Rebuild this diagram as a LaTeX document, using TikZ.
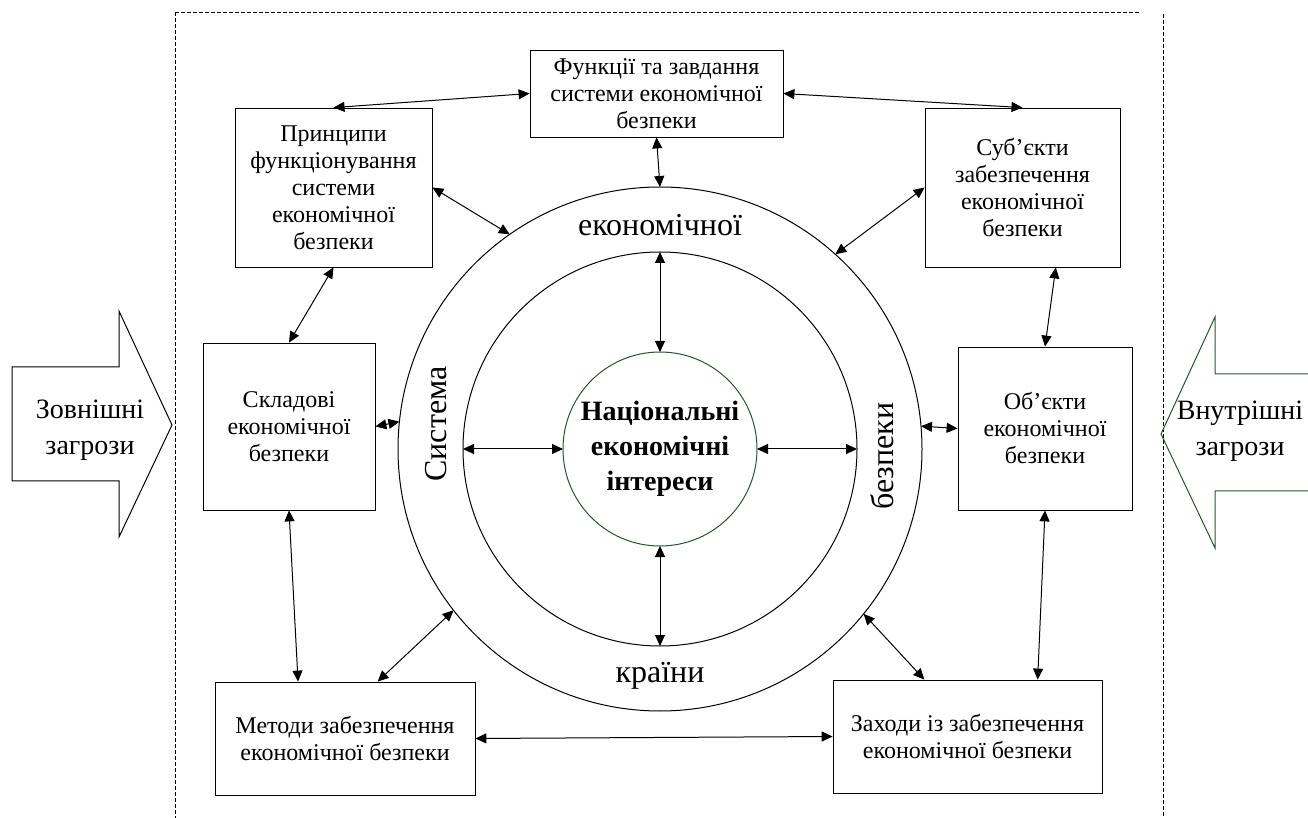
\documentclass[tikz,border=0pt]{standalone}
\usepackage{fontspec}
\setmainfont{Liberation Serif}
\usetikzlibrary{arrows.meta,calc}
\definecolor{threatgreen}{RGB}{40,85,45}
\tikzset{
  box/.style={draw, rectangle, align=center, inner sep=2pt, font=\fontsize{12}{13.5}\selectfont},
  link/.style={{Triangle[length=5.5pt,width=5pt]}-{Triangle[length=5.5pt,width=5pt]}, line width=0.5pt},
  ring/.style={draw, circle, inner sep=0pt, outer sep=0pt, line width=0.5pt},
  ringtext/.style={font=\fontsize{16}{18}\selectfont},
  frame/.style={dash pattern=on 2pt off 1pt, line width=0.4pt},
  threat/.style={align=center, font=\fontsize{14}{18}\selectfont}
}
\begin{document}
\begin{tikzpicture}[x=0.5pt,y=-0.5pt]
\useasboundingbox (0,0) rectangle (1308,818);
% dashed frame
\draw[frame] (175,12) -- (1140,12);
\draw[frame] (175,12) -- (175,818);
\draw[frame] (1163,14) -- (1163,818);
% threats
\draw[line width=0.5pt] (12,367) -- (119,367) -- (119,311) -- (172,425) -- (119,537) -- (119,481) -- (12,481) -- cycle;
\node[threat] (outthr) at (90,430) {Зовнішні\\загрози};
\draw[threatgreen, line width=0.5pt] (1308,374) -- (1215,374) -- (1215,317) -- (1161,434) -- (1215,548) -- (1215,491) -- (1308,491);
\node[threat] (inthr) at (1240,431) {Внутрішні\\загрози};
% rings
\node[ring, minimum size=262pt] (outer) at (660,449) {};
\node[ring, minimum size=197pt] (mid) at (660,449) {};
\node[ring, draw=threatgreen, minimum size=97pt, align=center, font=\fontsize{14}{17.5}\selectfont\bfseries] (core) at (660,449) {Національні\\економічні\\інтереси};
\node[ringtext] (rtop) at (660,225) {економічної};
\node[ringtext] (rbot) at (660,676) {країни};
\node[ringtext, rotate=90] (rleft) at (436,424) {Система};
\node[ringtext, rotate=90] (rright) at (882,456) {безпеки};
% boxes
\node[box, minimum width=126.5pt, minimum height=43.5pt] (funk) at (656.5,93.5) {Функції та завдання\\системи економічної\\безпеки};
\node[box, minimum width=98.5pt, minimum height=79.5pt] (princ) at (333.5,187.5) {Принципи\\функціонування\\системи\\економічної\\безпеки};
\node[box, minimum width=97.5pt, minimum height=79.5pt] (subj) at (1022.5,187.5) {Суб’єкти\\забезпечення\\економічної\\безпеки};
\node[box, minimum width=86pt, minimum height=83.5pt] (sklad) at (289,426.5) {Складові\\економічної\\безпеки};
\node[box, minimum width=87pt, minimum height=81.5pt] (obj) at (1045,428.5) {Об’єкти\\економічної\\безпеки};
\node[box, minimum width=130pt, minimum height=56.5pt] (metod) at (345,738.5) {Методи забезпечення\\економічної безпеки};
\node[box, minimum width=134.5pt, minimum height=56.5pt] (zakh) at (967.5,736.5) {Заходи із забезпечення\\економічної безпеки};
% links
\draw[link] (funk.west) -- (princ.north);
\draw[link] (funk.east) -- (subj.north);
\draw[link] (funk.south) -- (outer.north);
\draw[link] (princ.east) -- (outer.125);
\draw[link] (subj.west) -- (outer.48);
\draw[link] (princ.south) -- (sklad.north);
\draw[link] ($(subj.south west)!0.67!(subj.south east)$) -- (obj.north);
\draw[link] (sklad.east) -- (outer.174);
\draw[link] (obj.west) -- (outer.5);
\draw[link] (mid.north) -- (core.north);
\draw[link] (mid.south) -- (core.south);
\draw[link] (mid.west) -- (core.west);
\draw[link] (mid.east) -- (core.east);
\draw[link] (sklad.south) -- ($(metod.north west)!0.32!(metod.north east)$);
\draw[link] ($(metod.north west)!0.625!(metod.north east)$) -- (outer.218);
\draw[link] ($(zakh.north west)!0.34!(zakh.north east)$) -- (outer.321);
\draw[link] (obj.south) -- ($(zakh.north west)!0.76!(zakh.north east)$);
\draw[link] (metod.east) -- (zakh.west);
\end{tikzpicture}
\end{document}
